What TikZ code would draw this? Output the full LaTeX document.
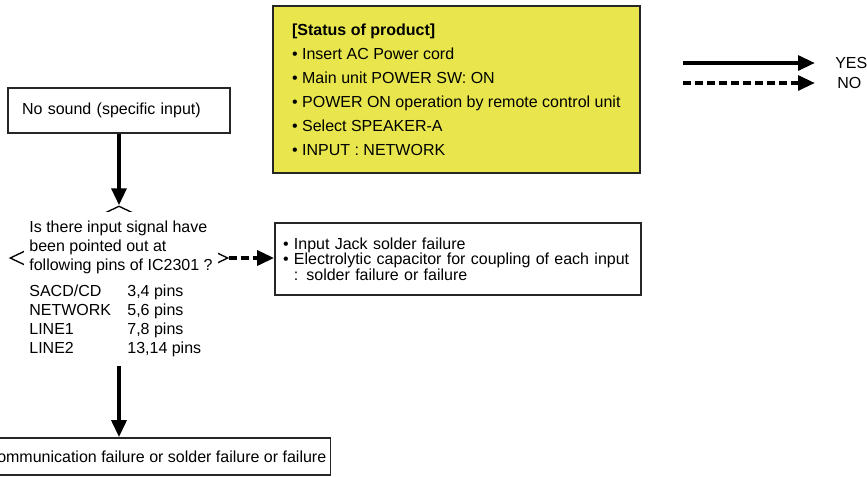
\documentclass[tikz,border=0pt]{standalone}
\usepackage{fontspec}
\setmainfont{Liberation Sans}
\usetikzlibrary{positioning,shapes.geometric,arrows.meta}
\definecolor{statusyellow}{RGB}{232,230,76}
\newcommand{\pinrow}[2]{\makebox[73.5pt][l]{#1}#2}

\begin{document}
\begin{tikzpicture}[
    x=0.75pt,y=-0.75pt,
    font=\fontsize{12}{14.25}\selectfont,
    box/.style={rectangle,draw=black!85,line width=1.2pt,align=left,inner ysep=0pt},
    yesarrow/.style={-{Triangle[length=12.75pt,width=11pt]},line width=3pt},
    noarrow/.style={yesarrow,dash pattern=on 6pt off 3pt}
    ]
    \useasboundingbox (0,0) rectangle (867,476);

    \node(status) [box,fill=statusyellow,anchor=north west,minimum width=275.25pt,minimum height=125.25pt,font=\fontsize{12}{18}\selectfont] at (272,5) {\textbf{[Status of product]}\\
        • Insert AC Power cord\\
        • Main unit POWER SW: ON\\
        • POWER ON operation by remote control unit\\
        • Select SPEAKER-A\\
        • INPUT : NETWORK};

    \node(nosound) [box,text width=145.5pt,inner xsep=10.5pt,minimum height=33.75pt] at (119,110.5) {No sound (specific input)};

    \node(q) [diamond,draw,line width=1pt,inner sep=0pt,minimum width=163.5pt,minimum height=78pt] at (119,258) {};
    \node(qtext) [fill=white,inner sep=0pt,minimum width=145.5pt,minimum height=115.5pt,align=left] at (121,289) {Is there input signal have\\
        been pointed out at\\
        following pins of IC2301 ?\\[5.5pt]
        \pinrow{SACD/CD}{3,4 pins}\\
        \pinrow{NETWORK}{5,6 pins}\\
        \pinrow{LINE1}{7,8 pins}\\
        \pinrow{LINE2}{13,14 pins}};

    \node(nobox) [box,text width=262.5pt,inner xsep=6pt,minimum height=54pt,font=\fontsize{12}{11.75}\selectfont] at (458,259) {• Input Jack solder failure\\
        • Electrolytic capacitor for coupling of each input\\
        \phantom{• }: solder failure or failure};

    \node(fail) [box,minimum width=261.75pt,minimum height=27.75pt,inner xsep=0pt] at (156,456.5) {Communication failure or solder failure or failure};

    \draw[yesarrow] (nosound) -- (q);
    \draw[noarrow] (q.east) -- (q.east -| nobox.west);
    \draw[yesarrow] (q |- qtext.south) -- (q |- fail.north);

    \coordinate (yesa) at (683,63);
    \coordinate (yesb) at (815,63);
    \coordinate (noa) at (683,83);
    \coordinate (nob) at (815,83);
    \draw[yesarrow] (yesa) -- (yesb);
    \draw[noarrow] (noa) -- (nob);
    \node(yes) [right=15pt of yesb,inner sep=0pt] {YES};
    \node(no) [right=16.5pt of nob,inner sep=0pt] {NO};

\end{tikzpicture}
\end{document}
